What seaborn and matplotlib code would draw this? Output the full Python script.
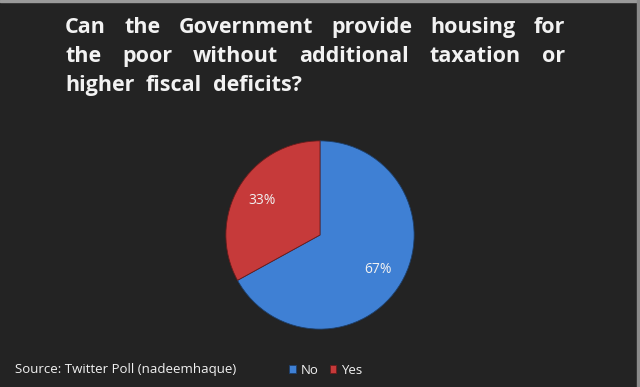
import matplotlib
matplotlib.use("Agg")
import matplotlib.pyplot as plt
import seaborn as sns
from matplotlib.patches import Rectangle

# data
labels = ["No", "Yes"]
shares = [67, 33]
colors = ["#3f80d4", "#c63a3a"]

title_lines = [
    "Can the Government provide housing for",
    "the poor without additional taxation or",
    "higher fiscal deficits?",
]
source_text = "Source: Twitter Poll (nadeemhaque)"

BG = "#232323"
FG = "#f2f2f2"

sns.set_style("dark", {"axes.facecolor": BG, "figure.facecolor": BG})
plt.rcParams['font.family'] = ['Open Sans', 'DejaVu Sans']

W, H = 640, 387
fig = plt.figure(figsize=(W / 100, H / 100), dpi=100)
fig.patch.set_facecolor(BG)

# thin light edge at top / right like the screenshot
fig.patches.append(Rectangle((0, 1 - 2 / H), 1, 2 / H, transform=fig.transFigure,
                             color="#9a9a9a", zorder=0))
fig.patches.append(Rectangle((1 - 3 / W, 0), 3 / W, 1, transform=fig.transFigure,
                             color="#8a8a8a", zorder=0))

# pie axes: centre (320, 235) px, radius 96 px
cx, cy, r = 320, 235, 96
ax = fig.add_axes([(cx - r) / W, (H - cy - r) / H, 2 * r / W, 2 * r / H])
ax.set_facecolor(BG)
wedges, _, autotexts = ax.pie(
    shares, colors=colors, startangle=90, counterclock=False,
    autopct="%d%%", pctdistance=0.72,
    wedgeprops=dict(edgecolor="#1d3f6a", linewidth=0.6),
    textprops=dict(color=FG, fontsize=10),
)
wedges[1].set_edgecolor("#6a1c1c")
ax.set_xlim(-1.02, 1.02)
ax.set_ylim(-1.02, 1.02)
ax.set_aspect("equal")
ax.axis("off")

# justified title
left_px, right_px = 65, 565
baseline_y = [33, 62, 91]
fig.canvas.draw()
renderer = fig.canvas.get_renderer()
for i, line in enumerate(title_lines):
    words = line.split()
    y = 1 - baseline_y[i] / H
    texts = []
    for w in words:
        t = fig.text(0, y, w, color=FG, fontsize=15.5, fontweight="bold",
                     va="baseline", ha="left")
        texts.append(t)
    widths = [t.get_window_extent(renderer).width for t in texts]
    if i < len(title_lines) - 1:
        gap = (right_px - left_px - sum(widths)) / (len(words) - 1)
    else:
        gap = 11
    x = left_px
    for t, wd in zip(texts, widths):
        t.set_x(x / W)
        x += wd + gap

# source
fig.text(15 / W, 1 - 370 / H, source_text, color=FG, fontsize=9.5,
         va="center", ha="left")

# legend
fig.legend(wedges, labels, loc="center", bbox_to_anchor=(326 / W, 1 - 370 / H),
           ncol=2, frameon=False, fontsize=9.5, labelcolor=FG,
           handlelength=0.5, handleheight=0.5, handletextpad=0.4,
           columnspacing=0.8)

fig.savefig("out.png", dpi=100, facecolor=BG)
